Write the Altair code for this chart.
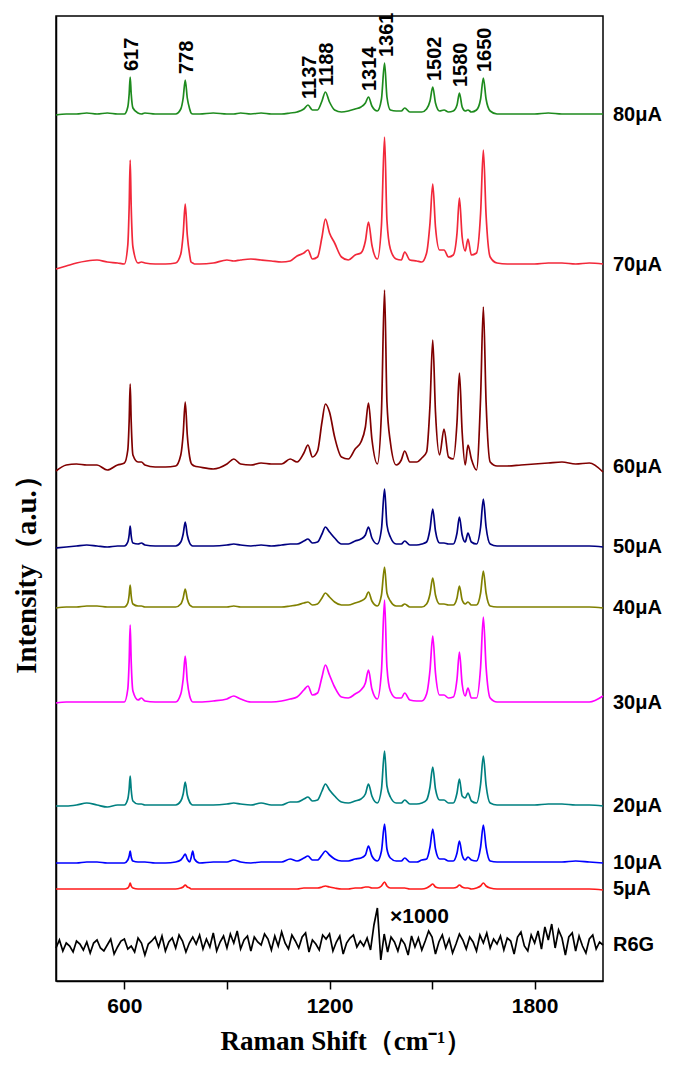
import altair as alt
import pandas as pd

# Raman shift knots (cm-1) shared by the SERS spectra
KNOTS = [
    400, 430, 460, 490, 520, 550, 580, 600, 610, 614,
    617, 620, 625, 640, 650, 660, 690, 720, 750, 765,
    772, 778, 784, 791, 795, 800, 805, 820, 860, 900,
    920, 940, 970, 1000, 1030, 1060, 1085, 1105, 1125, 1137,
    1150, 1165, 1178, 1188, 1200, 1215, 1235, 1255, 1275, 1292,
    1305, 1314, 1324, 1340, 1352, 1361, 1368, 1378, 1395, 1410,
    1420, 1435, 1455, 1470, 1484, 1494, 1502, 1510, 1522, 1535,
    1548, 1562, 1573, 1580, 1588, 1597, 1605, 1615, 1630, 1642,
    1650, 1658, 1670, 1690, 1720, 1760, 1800, 1840, 1880, 1920,
    1960, 2000,
]

# intensities above each trace's own baseline (a.u.)
I80 = [
    0, 1, 1, 2, 1, 2, 1, 1, 8, 21,
    38, 21, 7, 2, 1, 2, 1, 1, 1, 6,
    17, 35, 17, 6, 2, 1, 1, 1, 2, 1,
    1, 2, 1, 2, 1, 1, 2, 3, 6, 10,
    5, 5, 14, 23, 13, 5, 3, 4, 6, 8,
    12, 18, 9, 4, 16, 52, 18, 5, 4, 4,
    7, 3, 3, 3, 6, 14, 28, 12, 4, 5,
    3, 4, 10, 22, 8, 4, 5, 3, 5, 16,
    37, 16, 4, 1, 1, 1, 1, 2, 1, 1,
    1, 1,
]
I70 = [
    -4, -1, 2, 4, 5, 3, 2, 1, 20, 58,
    105, 58, 18, 2, 3, 2, 1, 1, 2, 11,
    31, 61, 30, 10, 3, 2, 1, 1, 2, 5,
    4, 5, 6, 5, 4, 3, 4, 9, 12, 15,
    6, 8, 28, 46, 32, 22, 8, 5, 10, 12,
    24, 43, 20, 6, 40, 128, 45, 16, 6, 5,
    13, 5, 4, 3, 12, 42, 81, 38, 15, 15,
    8, 10, 32, 67, 28, 14, 26, 10, 12, 52,
    115, 50, 8, 2, 1, 1, 1, 2, 2, 1,
    2, 1,
]
I60 = [
    -4, 2, 3, 2, 2, -3, 2, 4, 17, 46,
    83, 45, 12, 5, 5, 2, 0, 0, 1, 12,
    33, 65, 32, 10, 4, 2, 1, 0, -2, 3,
    8, 3, 2, 4, 3, 3, 8, 5, 14, 22,
    10, 16, 45, 63, 55, 30, 10, 8, 18, 25,
    40, 64, 28, 3, 55, 177, 65, 25, 2, 7,
    16, 5, 5, 9, 15, 62, 127, 55, 12, 38,
    10, 8, 45, 94, 35, 2, 22, 8, -3, 70,
    160, 65, 5, 1, 1, 2, 3, 4, 5, 3,
    4, -5,
]
I50 = [
    -1, 0, 1, 2, 1, 0, 1, 1, 5, 12,
    21, 11, 4, 3, 4, 2, 1, 1, 1, 5,
    13, 25, 12, 4, 2, 1, 1, 1, 1, 2,
    3, 2, 1, 2, 1, 2, 3, 3, 6, 8,
    4, 5, 13, 20, 15, 9, 3, 3, 6, 8,
    12, 20, 9, 3, 18, 58, 22, 10, 3, 3,
    6, 2, 2, 3, 5, 18, 38, 16, 4, 4,
    3, 3, 14, 30, 12, 5, 14, 5, 3, 20,
    48, 20, 3, 1, 1, 1, 1, 1, 1, 1,
    1, 0,
]
I40 = [
    0, 1, 1, 2, 2, 1, 1, 1, 5, 13,
    23, 12, 4, 2, 2, 1, 1, 1, 1, 4,
    10, 19, 9, 3, 2, 1, 1, 1, 1, 1,
    2, 1, 1, 1, 1, 1, 2, 3, 5, 6,
    3, 4, 10, 15, 11, 6, 3, 3, 5, 7,
    10, 16, 7, 2, 13, 41, 15, 7, 2, 2,
    4, 1, 1, 1, 4, 14, 30, 13, 4, 4,
    3, 3, 10, 22, 8, 4, 6, 3, 3, 15,
    37, 15, 2, 1, 1, 1, 1, 1, 1, 1,
    1, 0,
]
I30 = [
    0, 1, 1, 1, 1, 1, 1, 1, 14, 42,
    78, 41, 12, 3, 5, 2, 1, 1, 1, 9,
    24, 47, 22, 7, 3, 1, 1, 1, 2, 4,
    7, 4, 1, 1, 1, 2, 4, 6, 13, 17,
    8, 10, 26, 38, 28, 16, 6, 5, 9, 13,
    20, 33, 14, 4, 32, 103, 36, 12, 5, 5,
    10, 3, 2, 2, 9, 33, 67, 30, 8, 8,
    5, 6, 24, 51, 19, 7, 15, 5, 5, 36,
    86, 36, 5, 1, 1, 1, 1, 1, 1, 1,
    1, 7,
]
I20 = [
    0, 0, 1, 3, 1, -1, 1, 1, 7, 17,
    30, 16, 5, 2, 2, 1, 1, 1, 1, 5,
    12, 24, 11, 4, 2, 1, 1, 1, 1, 2,
    3, 2, 1, 3, 1, 1, 4, 4, 7, 9,
    5, 6, 15, 22, 16, 10, 4, 3, 5, 7,
    12, 22, 10, 3, 17, 55, 20, 9, 3, 3,
    6, 2, 2, 3, 6, 19, 39, 17, 6, 6,
    3, 3, 13, 27, 10, 8, 13, 5, 3, 22,
    50, 21, 3, 1, 1, 1, 1, 2, 2, 1,
    1, 0,
]
I10 = [
    0, 0, 0, 1, 1, 0, 0, 0, 3, 7,
    12, 6, 2, 1, 1, 1, 0, 0, 1, 3,
    6, 9, 4, 1, 5, 12, 4, 0, 1, 1,
    3, 1, 0, 1, 1, 1, 4, 2, 5, 7,
    3, 3, 8, 12, 8, 4, 2, 2, 4, 5,
    8, 17, 7, 2, 12, 39, 14, 5, 2, 2,
    5, 1, 1, 3, 4, 16, 34, 14, 4, 4,
    2, 2, 10, 22, 8, 3, 6, 3, 2, 16,
    38, 16, 2, 1, 1, 1, 1, 1, 1, 2,
    1, 0,
]
I5 = [
    0, 0, 0, 0, 0, 0, 0, 0, 1, 3,
    6, 3, 1, 0, 0, 0, 0, 0, 0, 1,
    2, 4, 2, 1, 0, 0, 0, 0, 0, 0,
    0, 0, 0, 0, 0, 0, 0, 0, 1, 1,
    1, 1, 2, 3, 2, 1, 0, 0, 1, 1,
    2, 2, 1, 1, 3, 7, 3, 1, 1, 1,
    1, 0, 0, 0, 1, 3, 5, 2, 1, 1,
    1, 1, 2, 4, 2, 1, 1, 0, 1, 3,
    6, 3, 1, 0, 0, 0, 0, 0, 0, 0,
    0, -1,
]

# R6G reference spectrum (x1000), every 10 cm-1 from 400 to 2000
R6G_X = list(range(400, 2001, 10))
R6G = [
    -3, 5, -6, 2, -1, -7, 4, 1, -5, 3,
    -8, 2, 5, -3, -6, 0, 6, -9, -2, 4,
    6, -4, -1, -7, 7, 2, -10, 1, 4, 8,
    -2, 9, -6, 3, 7, -3, 10, 4, -7, 2,
    8, 1, 10, -4, 6, -2, 12, -6, 3, 9,
    -3, 11, 2, 14, -4, 5, 9, -6, 8, 3,
    0, 11, 6, -5, 9, -1, 13, 2, -4, 10,
    4, -3, 8, 12, -7, 5, 1, -5, 10, 6,
    11, -6, 3, 9, -9, 2, 7, 10, -2, 4,
    -1, 7, -5, 20, 37, -15, 11, -7, 8, 3,
    -6, 6, 1, -10, 9, -2, 7, -5, 4, 14,
    8, -9, 3, 10, -3, 6, -8, 1, 11, 5,
    -4, 8, 3, -6, 10, 2, 12, -3, 6, 1,
    9, -5, 7, 4, -9, 8, 13, -1, -6, 10,
    2, 14, -4, 18, 5, 21, -3, 15, 7, -10,
    8, 12, -6, 9, -1, -8, 6, 10, -4, 3,
    0,
]

SERIES = ["80μA", "70μA", "60μA", "50μA", "40μA", "30μA", "20μA", "10μA", "5μA", "R6G"]
OFFSETS = [866, 716, 514, 434, 373, 278, 175, 118, 92, 36]
COLORS = ["#1E8B1E", "#F2283A", "#800000", "#000080", "#808000",
          "#FF00FF", "#008080", "#0000FF", "#FF1A1A", "#000000"]
PEAKS = [617, 778, 1137, 1188, 1314, 1361, 1502, 1580, 1650]

SPECTRA = [I80, I70, I60, I50, I40, I30, I20, I10, I5]

rows = []
for name, off, vals in zip(SERIES[:-1], OFFSETS[:-1], SPECTRA):
    assert len(vals) == len(KNOTS), name
    for k, v in zip(KNOTS, vals):
        rows.append({"series": name, "x": k, "y": off + v})
spec_df = pd.DataFrame(rows)

assert len(R6G) == len(R6G_X)
r6g_df = pd.DataFrame({"series": "R6G", "x": R6G_X, "y": [OFFSETS[-1] + v for v in R6G]})

peak_df = pd.DataFrame({
    "x": PEAKS,
    "y": [OFFSETS[0] + I80[KNOTS.index(p)] for p in PEAKS],
    "label": [str(p) for p in PEAKS],
})
lab_df = pd.DataFrame({"series": SERIES, "y": OFFSETS})

SANS = "Liberation Sans, Arial, sans-serif"
SERIF = "Liberation Serif, Times New Roman, serif"

x_enc = alt.X(
    "x:Q",
    scale=alt.Scale(domain=[400, 2000], nice=False, zero=False),
    axis=alt.Axis(
        values=[600, 900, 1200, 1500, 1800], format="d",
        labelExpr="(datum.value == 900 || datum.value == 1500) ? '' : datum.label",
        grid=False, tickSize=8, tickWidth=1.5, tickColor="black",
        domainColor="black", domainWidth=1.5,
        labelFont=SANS, labelFontSize=21, labelFontWeight="bold", labelColor="black",
        labelPadding=6,
        titleFont=SERIF, titleFontSize=27, titleFontWeight="bold", titleColor="black",
        titlePadding=12, titleX=290, titleAlign="center",
    ),
    title="Raman Shift（cm⁻¹）",
)
y_enc = alt.Y(
    "y:Q",
    scale=alt.Scale(domain=[0, 965], nice=False, zero=False),
    axis=alt.Axis(
        labels=False, ticks=False, grid=False,
        domainColor="black", domainWidth=1.5,
        titleFont=SERIF, titleFontSize=29, titleFontWeight="bold", titleColor="black",
        titleAngle=270, titleAlign="center", titleBaseline="bottom",
        titleX=-15, titleY=551,
    ),
    title="Intensity（a.u.）",
)
color_enc = alt.Color("series:N", scale=alt.Scale(domain=SERIES, range=COLORS), legend=None)

spectra = alt.Chart(spec_df).mark_line(strokeWidth=1.7, interpolate="monotone").encode(
    x=x_enc, y=y_enc, color=color_enc, detail="series:N"
)
r6g = alt.Chart(r6g_df).mark_line(strokeWidth=1.7).encode(
    x=x_enc, y=y_enc, color=color_enc
)
peak_text = alt.Chart(peak_df).mark_text(
    angle=270, align="left", baseline="middle", dx=6, dy=2,
    font=SANS, fontSize=20, fontWeight="bold", color="black",
).encode(x=x_enc, y=y_enc, text="label:N")
series_text = alt.Chart(lab_df).mark_text(
    align="left", baseline="middle", font=SANS, fontSize=20, fontWeight="bold", color="black",
).encode(x=alt.value(557), y=y_enc, text="series:N")
times_text = alt.Chart(pd.DataFrame({"t": ["×1000"]})).mark_text(
    align="left", baseline="middle", font=SANS, fontSize=21, fontWeight="bold", color="black",
).encode(x=alt.value(334), y=alt.value(901), text="t:N")

chart = alt.layer(spectra, r6g, peak_text, series_text, times_text).properties(
    width=547, height=965,
    autosize=alt.AutoSizeParams(type="none"),
    padding={"left": 48, "top": 8, "right": 64, "bottom": 80},
    background="white",
).configure_view(stroke="black", strokeWidth=1.5)

chart.save("out.html", embed_options={"renderer": "svg", "actions": False})
